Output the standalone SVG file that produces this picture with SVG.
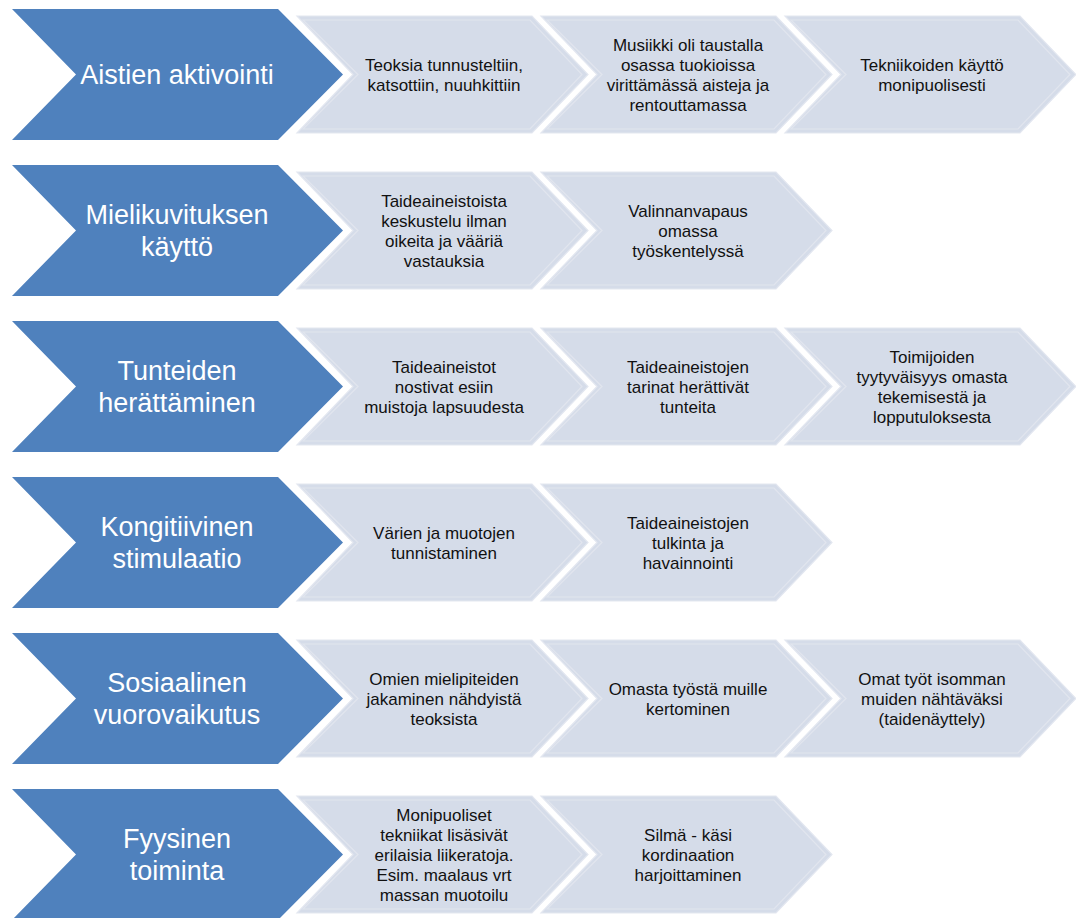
<svg xmlns="http://www.w3.org/2000/svg" xmlns:xlink="http://www.w3.org/1999/xlink" width="1076" height="918" viewBox="0 0 1076 918">
<style>
.blue{fill:#4F81BD}
.light{fill:#D5DCE9;stroke:#E3E7F0;stroke-width:1.2}
.inner{fill:none;stroke:#E1E5EE;stroke-width:1.2}
.bt{font-family:"Liberation Sans",Arial,sans-serif;font-size:27px;fill:#FFFFFF;text-anchor:middle}
.lt{font-family:"Liberation Sans",Arial,sans-serif;font-size:17px;fill:#111111;text-anchor:middle}
</style>
<defs>
<path id="bc" d="M0,0 H266 L331,65.5 L266,131 H0 L64,65.5 Z"/>
<path id="lc" d="M0,0 H235 L291,58.5 L235,117 H0 L56,58.5 Z"/>
<path id="li" d="M6,4 H233 L285,58.5 L233,113 H6 L61,58.5 Z"/>
</defs>
<rect width="1076" height="918" fill="#FFFFFF"/>
<g id="connectors"></g>

<!-- Row 1 -->
<g id="r1-main"><use xlink:href="#bc" class="blue" x="12" y="9"/><text class="bt" x="177" y="84">Aistien aktivointi</text></g>
<g id="r1-a"><use xlink:href="#lc" class="light" x="297" y="16"/><use xlink:href="#li" class="inner" x="297" y="16"/>
<text class="lt" x="444" y="71">Teoksia tunnusteltiin,</text><text class="lt" x="444" y="91">katsottiin, nuuhkittiin</text></g>
<g id="r1-b"><use xlink:href="#lc" class="light" x="541" y="16"/><use xlink:href="#li" class="inner" x="541" y="16"/>
<text class="lt" x="688" y="51">Musiikki oli taustalla</text><text class="lt" x="688" y="71">osassa tuokioissa</text><text class="lt" x="688" y="91">virittämässä aisteja ja</text><text class="lt" x="688" y="111">rentouttamassa</text></g>
<g id="r1-c"><use xlink:href="#lc" class="light" x="785" y="16"/><use xlink:href="#li" class="inner" x="785" y="16"/>
<text class="lt" x="932" y="71">Tekniikoiden käyttö</text><text class="lt" x="932" y="91">monipuolisesti</text></g>

<!-- Row 2 -->
<g id="r2-main"><use xlink:href="#bc" class="blue" x="12" y="165"/><text class="bt" x="177" y="224">Mielikuvituksen</text><text class="bt" x="177" y="256">käyttö</text></g>
<g id="r2-a"><use xlink:href="#lc" class="light" x="297" y="172"/><use xlink:href="#li" class="inner" x="297" y="172"/>
<text class="lt" x="444" y="207">Taideaineistoista</text><text class="lt" x="444" y="227">keskustelu ilman</text><text class="lt" x="444" y="247">oikeita ja vääriä</text><text class="lt" x="444" y="267">vastauksia</text></g>
<g id="r2-b"><use xlink:href="#lc" class="light" x="541" y="172"/><use xlink:href="#li" class="inner" x="541" y="172"/>
<text class="lt" x="688" y="217">Valinnanvapaus</text><text class="lt" x="688" y="237">omassa</text><text class="lt" x="688" y="257">työskentelyssä</text></g>

<!-- Row 3 -->
<g id="r3-main"><use xlink:href="#bc" class="blue" x="12" y="321"/><text class="bt" x="177" y="380">Tunteiden</text><text class="bt" x="177" y="412">herättäminen</text></g>
<g id="r3-a"><use xlink:href="#lc" class="light" x="297" y="328"/><use xlink:href="#li" class="inner" x="297" y="328"/>
<text class="lt" x="444" y="373">Taideaineistot</text><text class="lt" x="444" y="393">nostivat esiin</text><text class="lt" x="444" y="413">muistoja lapsuudesta</text></g>
<g id="r3-b"><use xlink:href="#lc" class="light" x="541" y="328"/><use xlink:href="#li" class="inner" x="541" y="328"/>
<text class="lt" x="688" y="373">Taideaineistojen</text><text class="lt" x="688" y="393">tarinat herättivät</text><text class="lt" x="688" y="413">tunteita</text></g>
<g id="r3-c"><use xlink:href="#lc" class="light" x="785" y="328"/><use xlink:href="#li" class="inner" x="785" y="328"/>
<text class="lt" x="932" y="363">Toimijoiden</text><text class="lt" x="932" y="383">tyytyväisyys omasta</text><text class="lt" x="932" y="403">tekemisestä ja</text><text class="lt" x="932" y="423">lopputuloksesta</text></g>

<!-- Row 4 -->
<g id="r4-main"><use xlink:href="#bc" class="blue" x="12" y="477"/><text class="bt" x="177" y="536">Kongitiivinen</text><text class="bt" x="177" y="568">stimulaatio</text></g>
<g id="r4-a"><use xlink:href="#lc" class="light" x="297" y="484"/><use xlink:href="#li" class="inner" x="297" y="484"/>
<text class="lt" x="444" y="539">Värien ja muotojen</text><text class="lt" x="444" y="559">tunnistaminen</text></g>
<g id="r4-b"><use xlink:href="#lc" class="light" x="541" y="484"/><use xlink:href="#li" class="inner" x="541" y="484"/>
<text class="lt" x="688" y="529">Taideaineistojen</text><text class="lt" x="688" y="549">tulkinta ja</text><text class="lt" x="688" y="569">havainnointi</text></g>

<!-- Row 5 -->
<g id="r5-main"><use xlink:href="#bc" class="blue" x="12" y="633"/><text class="bt" x="177" y="692">Sosiaalinen</text><text class="bt" x="177" y="724">vuorovaikutus</text></g>
<g id="r5-a"><use xlink:href="#lc" class="light" x="297" y="640"/><use xlink:href="#li" class="inner" x="297" y="640"/>
<text class="lt" x="444" y="685">Omien mielipiteiden</text><text class="lt" x="444" y="705">jakaminen nähdyistä</text><text class="lt" x="444" y="725">teoksista</text></g>
<g id="r5-b"><use xlink:href="#lc" class="light" x="541" y="640"/><use xlink:href="#li" class="inner" x="541" y="640"/>
<text class="lt" x="688" y="695">Omasta työstä muille</text><text class="lt" x="688" y="715">kertominen</text></g>
<g id="r5-c"><use xlink:href="#lc" class="light" x="785" y="640"/><use xlink:href="#li" class="inner" x="785" y="640"/>
<text class="lt" x="932" y="685">Omat työt isomman</text><text class="lt" x="932" y="705">muiden nähtäväksi</text><text class="lt" x="932" y="725">(taidenäyttely)</text></g>

<!-- Row 6 -->
<g id="r6-main"><use xlink:href="#bc" class="blue" x="12" y="789"/><text class="bt" x="177" y="848">Fyysinen</text><text class="bt" x="177" y="880">toiminta</text></g>
<g id="r6-a"><use xlink:href="#lc" class="light" x="297" y="796"/><use xlink:href="#li" class="inner" x="297" y="796"/>
<text class="lt" x="444" y="821">Monipuoliset</text><text class="lt" x="444" y="841">tekniikat lisäsivät</text><text class="lt" x="444" y="861">erilaisia liikeratoja.</text><text class="lt" x="444" y="881">Esim. maalaus vrt</text><text class="lt" x="444" y="901">massan muotoilu</text></g>
<g id="r6-b"><use xlink:href="#lc" class="light" x="541" y="796"/><use xlink:href="#li" class="inner" x="541" y="796"/>
<text class="lt" x="688" y="841">Silmä - käsi</text><text class="lt" x="688" y="861">kordinaation</text><text class="lt" x="688" y="881">harjoittaminen</text></g>
</svg>
